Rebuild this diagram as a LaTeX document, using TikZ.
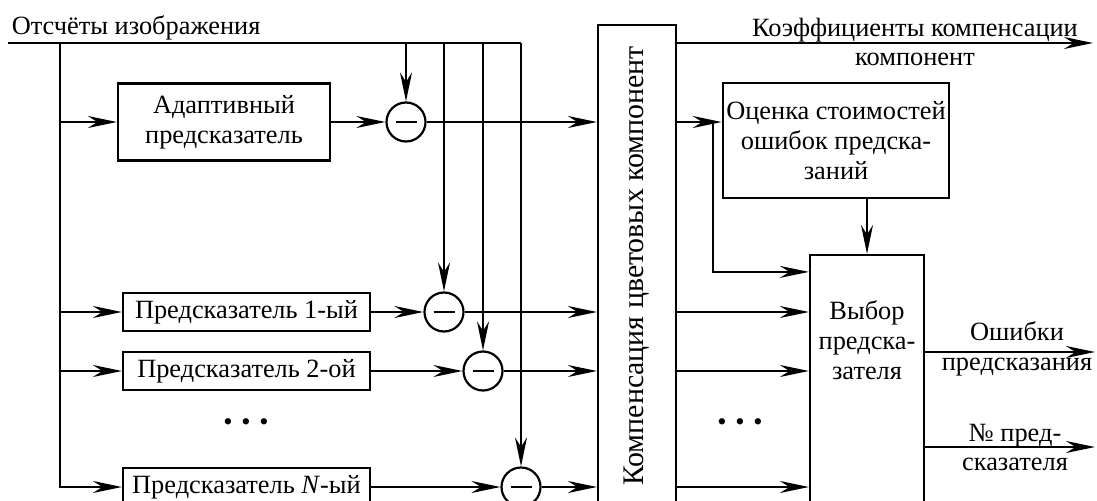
\documentclass[tikz,border=0pt]{standalone}
\usepackage{fontspec}
\setmainfont{Liberation Serif}
\usetikzlibrary{arrows.meta,calc,positioning}

\begin{document}
\begin{tikzpicture}[
  font=\fontsize{15}{17}\selectfont,
  >={Stealth[length=5.8mm,width=2.4mm,inset=1.9mm]},
  box/.style={draw, line width=1.25pt, align=center, inner sep=2pt},
  sub/.style={circle, draw, line width=1.25pt, minimum size=0.78cm, inner sep=0pt,
    path picture={\draw[line width=1.4pt]
      ([xshift=-0.21cm]path picture bounding box.center) --
      ([xshift=0.21cm]path picture bounding box.center);}},
  lbl/.style={align=center, inner sep=0pt},
  arrow/.style={->, line width=1.25pt},
  wire/.style={line width=1.25pt}
]
  \useasboundingbox (0,0) rectangle (21.94,-10.02);

  \node[lbl, anchor=base west] (src) at (0.23,-0.7) {Отсчёты изображения};
  \coordinate (in) at (0.16,-0.86);
  \coordinate (bus) at (1.2,-0.86);
  \coordinate (inend) at (10.42,-0.86);

  \node[box, minimum width=4.24cm, minimum height=1.54cm] (adapt) at (4.48,-2.44) {Адаптивный\\предсказатель};
  \node[box, minimum width=4.94cm, minimum height=0.76cm] (pred1) at (4.93,-6.24) {Предсказатель 1-ый};
  \node[box, minimum width=4.94cm, minimum height=0.76cm] (pred2) at (4.93,-7.42) {Предсказатель 2-ой};
  \node[box, minimum width=4.94cm, minimum height=0.76cm] (predN) at (4.93,-9.74) {Предсказатель \textit{N}-ый};
  \node[lbl] (dotsL) at (4.92,-8.5) {\textbullet\hspace{5pt}\textbullet\hspace{5pt}\textbullet};

  \node[sub] (sub0) at (8.12,-2.44) {};
  \node[sub] (sub1) at (8.88,-6.24) {};
  \node[sub] (sub2) at (9.66,-7.42) {};
  \node[sub] (subN) at (10.42,-9.74) {};

  \node[box, rotate=90, minimum width=9.64cm, minimum height=1.56cm, font=\fontsize{17}{19}\selectfont] (comp) at (12.74,-5.32) {Компенсация цветовых компонент};

  \node[box, minimum width=3.36cm, minimum height=2.3cm] (cost) at (16.72,-2.81) {Оценка стоимостей\\ошибок предска-\\заний};
  \node[box, minimum width=2.28cm, minimum height=5.04cm] (select) at (17.34,-7.62) {};
  \node[lbl] (selecttext) at (17.34,-6.8) {Выбор\\предска-\\зателя};
  \node[lbl] (dotsR) at (14.8,-8.5) {\textbullet\hspace{5pt}\textbullet\hspace{5pt}\textbullet};

  \coordinate (split) at (14.26,-2.44);
  \coordinate (coef) at (21.86,-0.86);
  \coordinate (err) at (21.9,-7.04);
  \coordinate (num) at (21.9,-8.94);

  \node[lbl] (coeflbl) at (18.3,-0.84) {Коэффициенты компенсации\\компонент};
  \node[lbl] (errlbl) at (20.34,-6.98) {Ошибки\\предсказания};
  \node[lbl] (numlbl) at (20.3,-8.95) {№ пред-\\сказателя};

  % input samples
  \draw[wire] (in) -- (inend);
  \draw[arrow] (bus) |- (predN);
  \draw[arrow] (bus |- adapt) -- (adapt);
  \draw[arrow] (bus |- pred1) -- (pred1);
  \draw[arrow] (bus |- pred2) -- (pred2);
  \draw[arrow] (sub0 |- in) -- (sub0);
  \draw[arrow] (sub1 |- in) -- (sub1);
  \draw[arrow] (sub2 |- in) -- (sub2);
  \draw[arrow] (subN |- in) -- (subN);

  % predictions
  \draw[arrow] (adapt) -- (sub0);
  \draw[arrow] (pred1) -- (sub1);
  \draw[arrow] (pred2) -- (sub2);
  \draw[arrow] (predN) -- (subN);
  \draw[arrow] (sub0) -- (sub0 -| comp.north);
  \draw[arrow] (sub1) -- (sub1 -| comp.north);
  \draw[arrow] (sub2) -- (sub2 -| comp.north);
  \draw[arrow] (subN) -- (subN -| comp.north);

  % compensated errors
  \draw[arrow] (comp.south |- coef) -- (coef);
  \draw[arrow] (comp.south |- sub0) -- (cost.west |- sub0);
  \draw[arrow] (split) |- ([yshift=-0.36cm]select.north west);
  \draw[arrow] (comp.south |- sub1) -- (select.west |- sub1);
  \draw[arrow] (comp.south |- sub2) -- (select.west |- sub2);
  \draw[arrow] (comp.south |- subN) -- (select.west |- subN);
  \draw[arrow] (cost.south -| select.north) -- (select.north);
  \draw[arrow] (select.east |- err) -- (err);
  \draw[arrow] (select.east |- num) -- (num);
\end{tikzpicture}
\end{document}
